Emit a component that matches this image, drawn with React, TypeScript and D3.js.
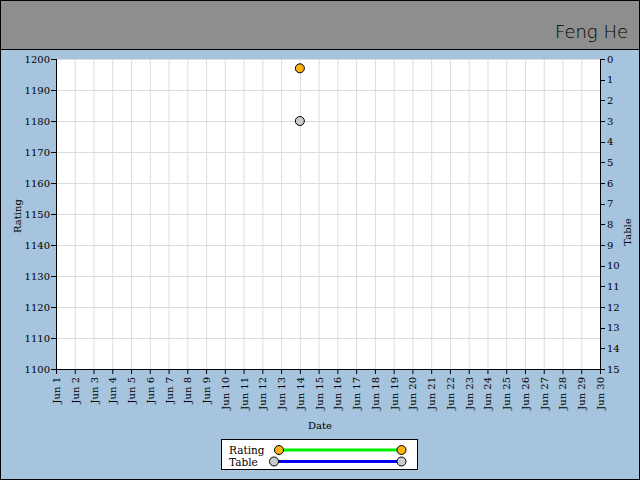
import React from "react";
import * as d3 from "d3";

const days: string[] = Array.from({ length: 30 }, (_, i) => `Jun ${i + 1}`);
const ratingTicks: number[] = [1100, 1110, 1120, 1130, 1140, 1150, 1160, 1170, 1180, 1190, 1200];
const tableTicks: number[] = [0, 1, 2, 3, 4, 5, 6, 7, 8, 9, 10, 11, 12, 13, 14, 15];
const ratingPoints: { day: string; value: number }[] = [{ day: "Jun 14", value: 1197 }];
const tablePoints: { day: string; value: number }[] = [{ day: "Jun 14", value: 3 }];
const title = "Feng He";

const W = 640, H = 480;
const L = 56, R = 600, T = 59, B = 369;
const FONT = "DejaVu Serif";
const BLUE_BG = "#a6c4de";
const HEADER = "#8e8e8e";
const ORANGE = "#fdb212";
const GREY = "#cccccc";

export default function App() {
  const x = d3.scalePoint<string>().domain(days).range([L, R]);
  const yL = d3.scaleLinear().domain([1100, 1200]).range([B, T]);
  const yR = d3.scaleLinear().domain([0, 15]).range([T, B]);

  return (
    <svg width={W} height={H} style={{ position: "absolute", left: 0, top: 0 }}>
      <rect x={0.5} y={0.5} width={W - 1} height={H - 1} fill={BLUE_BG} stroke="#000" />
      <rect x={0.5} y={0.5} width={W - 1} height={49} fill={HEADER} stroke="#000" />
      <text x={628} y={38} textAnchor="end" fontFamily="DejaVu Sans" fontWeight={200} fontSize={18} fill="#000">
        {title}
      </text>

      <rect x={L} y={T} width={R - L} height={B - T} fill="#fff" />
      {days.map((d) => (
        <line key={"vg" + d} x1={x(d)! + 0.5} x2={x(d)! + 0.5} y1={T} y2={B} stroke="#dcdcdc" />
      ))}
      {ratingTicks.map((v) => (
        <line key={"hg" + v} x1={L} x2={R} y1={Math.round(yL(v)) + 0.5} y2={Math.round(yL(v)) + 0.5} stroke="#dcdcdc" />
      ))}

      {/* left axis */}
      <line x1={L + 0.5} x2={L + 0.5} y1={T} y2={B + 1} stroke="#000" />
      {ratingTicks.map((v) => (
        <g key={"lt" + v}>
          <line x1={L - 5} x2={L} y1={Math.round(yL(v)) + 0.5} y2={Math.round(yL(v)) + 0.5} stroke="#000" />
          <text x={L - 6} y={yL(v)} dy="0.35em" textAnchor="end" fontFamily={FONT} fontSize={10} fill="#000">
            {v}
          </text>
        </g>
      ))}

      {/* right axis */}
      <line x1={R + 0.5} x2={R + 0.5} y1={T} y2={B + 1} stroke="#000" />
      {tableTicks.map((v) => (
        <g key={"rt" + v}>
          <line x1={R} x2={R + 5} y1={Math.round(yR(v)) + 0.5} y2={Math.round(yR(v)) + 0.5} stroke="#000" />
          <text x={R + 7} y={yR(v)} dy="0.35em" textAnchor="start" fontFamily={FONT} fontSize={10} fill="#000">
            {v}
          </text>
        </g>
      ))}

      {/* bottom axis */}
      <line x1={L} x2={R + 1} y1={B + 0.5} y2={B + 0.5} stroke="#000" />
      {days.map((d) => (
        <g key={"bt" + d}>
          <line x1={x(d)! + 0.5} x2={x(d)! + 0.5} y1={B} y2={B + 5} stroke="#000" />
          <text
            transform={`translate(${x(d)! + 0.5},${B + 8}) rotate(-90)`}
            dy="0.35em"
            textAnchor="end"
            fontFamily={FONT}
            fontSize={10}
            fill="#000"
          >
            {d}
          </text>
        </g>
      ))}

      <text x={320} y={429} textAnchor="middle" fontFamily={FONT} fontSize={10} fill="#000">Date</text>
      <text transform={`translate(21,216) rotate(-90)`} textAnchor="middle" fontFamily={FONT} fontSize={10} fill="#000">Rating</text>
      <text transform={`translate(631,232) rotate(-90)`} textAnchor="middle" fontFamily={FONT} fontSize={10} fill="#000">Table</text>

      {/* data points */}
      {tablePoints.map((p) => (
        <circle key={"tp" + p.day} cx={x(p.day)!} cy={yR(p.value)} r={4.5} fill={GREY} stroke="#000" />
      ))}
      {ratingPoints.map((p) => (
        <circle key={"rp" + p.day} cx={x(p.day)!} cy={yL(p.value)} r={4.5} fill={ORANGE} stroke="#000" />
      ))}

      {/* legend */}
      <rect x={221.5} y={439.5} width={196} height={30} fill="#fff" stroke="#000" />
      <text x={229} y={454} fontFamily={FONT} fontSize={10.5} fill="#000">Rating</text>
      <text x={229} y={465.5} fontFamily={FONT} fontSize={10.5} fill="#000">Table</text>
      <line x1={279} x2={401.5} y1={450} y2={450} stroke="#00ee00" strokeWidth={3} />
      <circle cx={279} cy={450} r={4.5} fill={ORANGE} stroke="#000" />
      <circle cx={401.5} cy={450} r={4.5} fill={ORANGE} stroke="#000" />
      <line x1={274} x2={401.5} y1={461.5} y2={461.5} stroke="#0000ee" strokeWidth={3} />
      <circle cx={274} cy={461.5} r={4.5} fill={GREY} stroke="#000" />
      <circle cx={401.5} cy={461.5} r={4.5} fill={GREY} stroke="#000" />
    </svg>
  );
}
